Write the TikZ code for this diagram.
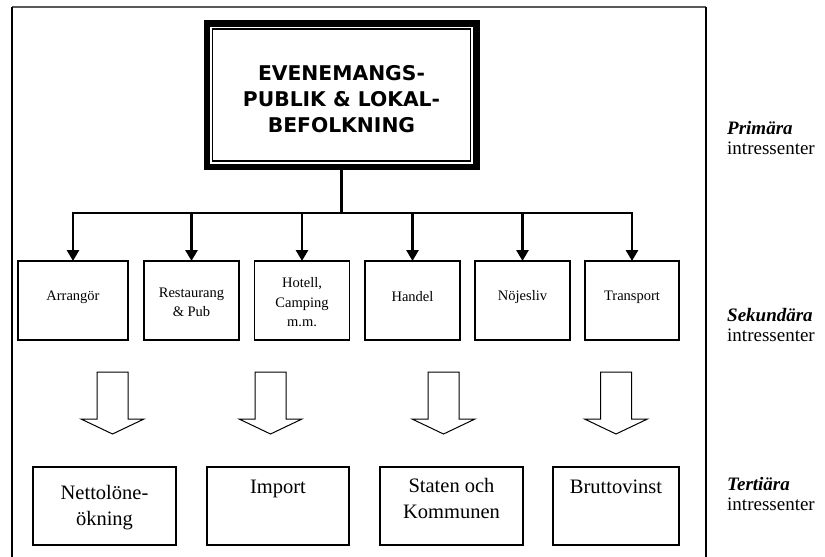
\documentclass[tikz,border=0pt]{standalone}
\usepackage{fontspec}
\setmainfont{Liberation Serif}
\newfontfamily\titlefont{DejaVu Sans}
\usetikzlibrary{arrows.meta}

\tikzset{
  pics/blockarrow/.style={code={
    \path[hollow] (-15.5,0) -- (15.5,0) -- (15.5,47) -- (31.5,47) -- (0,62)
      -- (-31.5,47) -- (-15.5,47) -- cycle;
  }}
}

\begin{document}
\begin{tikzpicture}[x=1pt,y=-1pt,
  frameline/.style={line width=1.3pt},
  mainbox/.style={draw, line width=6.5pt, outer sep=0pt, inner sep=0pt,
    minimum width=269.5pt, minimum height=143.5pt},
  titletext/.style={font=\titlefont\bfseries\fontsize{20.3}{26}\selectfont,
    align=center, inner sep=0pt},
  secbox/.style={draw, line width=1.2pt, minimum height=79pt, inner sep=0pt, outer sep=0pt},
  sectext/.style={font=\fontsize{14.5}{19.5}\selectfont, align=center, inner sep=0pt},
  tertbox/.style={draw, line width=1.2pt, minimum height=78pt, inner sep=0pt, outer sep=0pt},
  terttext/.style={font=\fontsize{20.5}{26}\selectfont, align=center, inner sep=0pt},
  feed/.style={line width=2.7pt, line join=miter, -{Triangle[length=11pt,width=12pt]}},
  hollow/.style={draw, line width=1pt, line join=miter, fill=white},
  levellabel/.style={font=\fontsize{19}{20}\selectfont, align=left, anchor=west, inner sep=0pt}
]
\useasboundingbox (0,0) rectangle (825,557);

% open frame around the chart
\draw[line width=2pt, black!65] (12,7) -- (706,7);
\draw[frameline] (12,7) -- (12,557);
\draw[frameline] (706,7) -- (706,557);

% primary stakeholder box with double border
\node[mainbox] (main) at (341.5,95.25) {};
\draw[line width=1.2pt] ([shift={(5.5,5.5)}]main.north west)
  rectangle ([shift={(-5.5,-6)}]main.south east);
\node[titletext] (maintext) at (341.5,99) {EVENEMANGS-\\PUBLIK \& LOKAL-\\BEFOLKNING};

% secondary stakeholders
\node[secbox, minimum width=110pt] (s1) at (73,300.5) {};
\node[secbox, minimum width=95pt]  (s2) at (191.5,300.5) {};
\node[secbox, minimum width=95pt]  (s3) at (302,300.5) {};
\node[secbox, minimum width=95pt]  (s4) at (412.5,300.5) {};
\node[secbox, minimum width=95pt]  (s5) at (522.5,300.5) {};
\node[secbox, minimum width=94pt]  (s6) at (632,300.5) {};

\node[sectext] (s1t) at (73,297) {Arrangör};
\node[sectext] (s2t) at (191.5,302.5) {Restaurang\\\& Pub};
\node[sectext] (s3t) at (302,302.5) {Hotell,\\Camping\\m.m.};
\node[sectext] (s4t) at (412.5,297) {Handel};
\node[sectext] (s5t) at (522.5,297) {Nöjesliv};
\node[sectext] (s6t) at (632,297) {Transport};

% distribution from the primary box
\coordinate (bus) at (341.5,213);
\draw[line width=2.7pt] (main.south) -- (bus);
\foreach \s in {s1,s2,s3,s4,s5,s6}
  \draw[feed] (bus) -| (\s.north);

% flow towards the tertiary level
\pic at (112.5,372) {blockarrow};
\pic at (270.5,372) {blockarrow};
\pic at (443.5,372) {blockarrow};
\pic at (616,372) {blockarrow};

% tertiary stakeholders
\node[tertbox, minimum width=143pt] (b1) at (104.5,506) {};
\node[tertbox, minimum width=142pt] (b2) at (278,506) {};
\node[tertbox, minimum width=143pt] (b3) at (451.5,506) {};
\node[tertbox, minimum width=126pt] (b4) at (616,506) {};

\node[terttext] (b1t) at (104.5,507.5) {Nettolöne-\\ökning};
\node[terttext] (b2t) at (278,489) {Import};
\node[terttext] (b3t) at (451.5,498.5) {Staten och\\Kommunen};
\node[terttext] (b4t) at (616,487) {Bruttovinst};

% level captions
\node[levellabel] (lp) at (727,138) {\textbf{\textit{Primära}}\\intressenter};
\node[levellabel] (ls) at (727,324.5) {\textbf{\textit{Sekundära}}\\intressenter};
\node[levellabel] (lt) at (727,494) {\textbf{\textit{Tertiära}}\\intressenter};
\end{tikzpicture}
\end{document}
